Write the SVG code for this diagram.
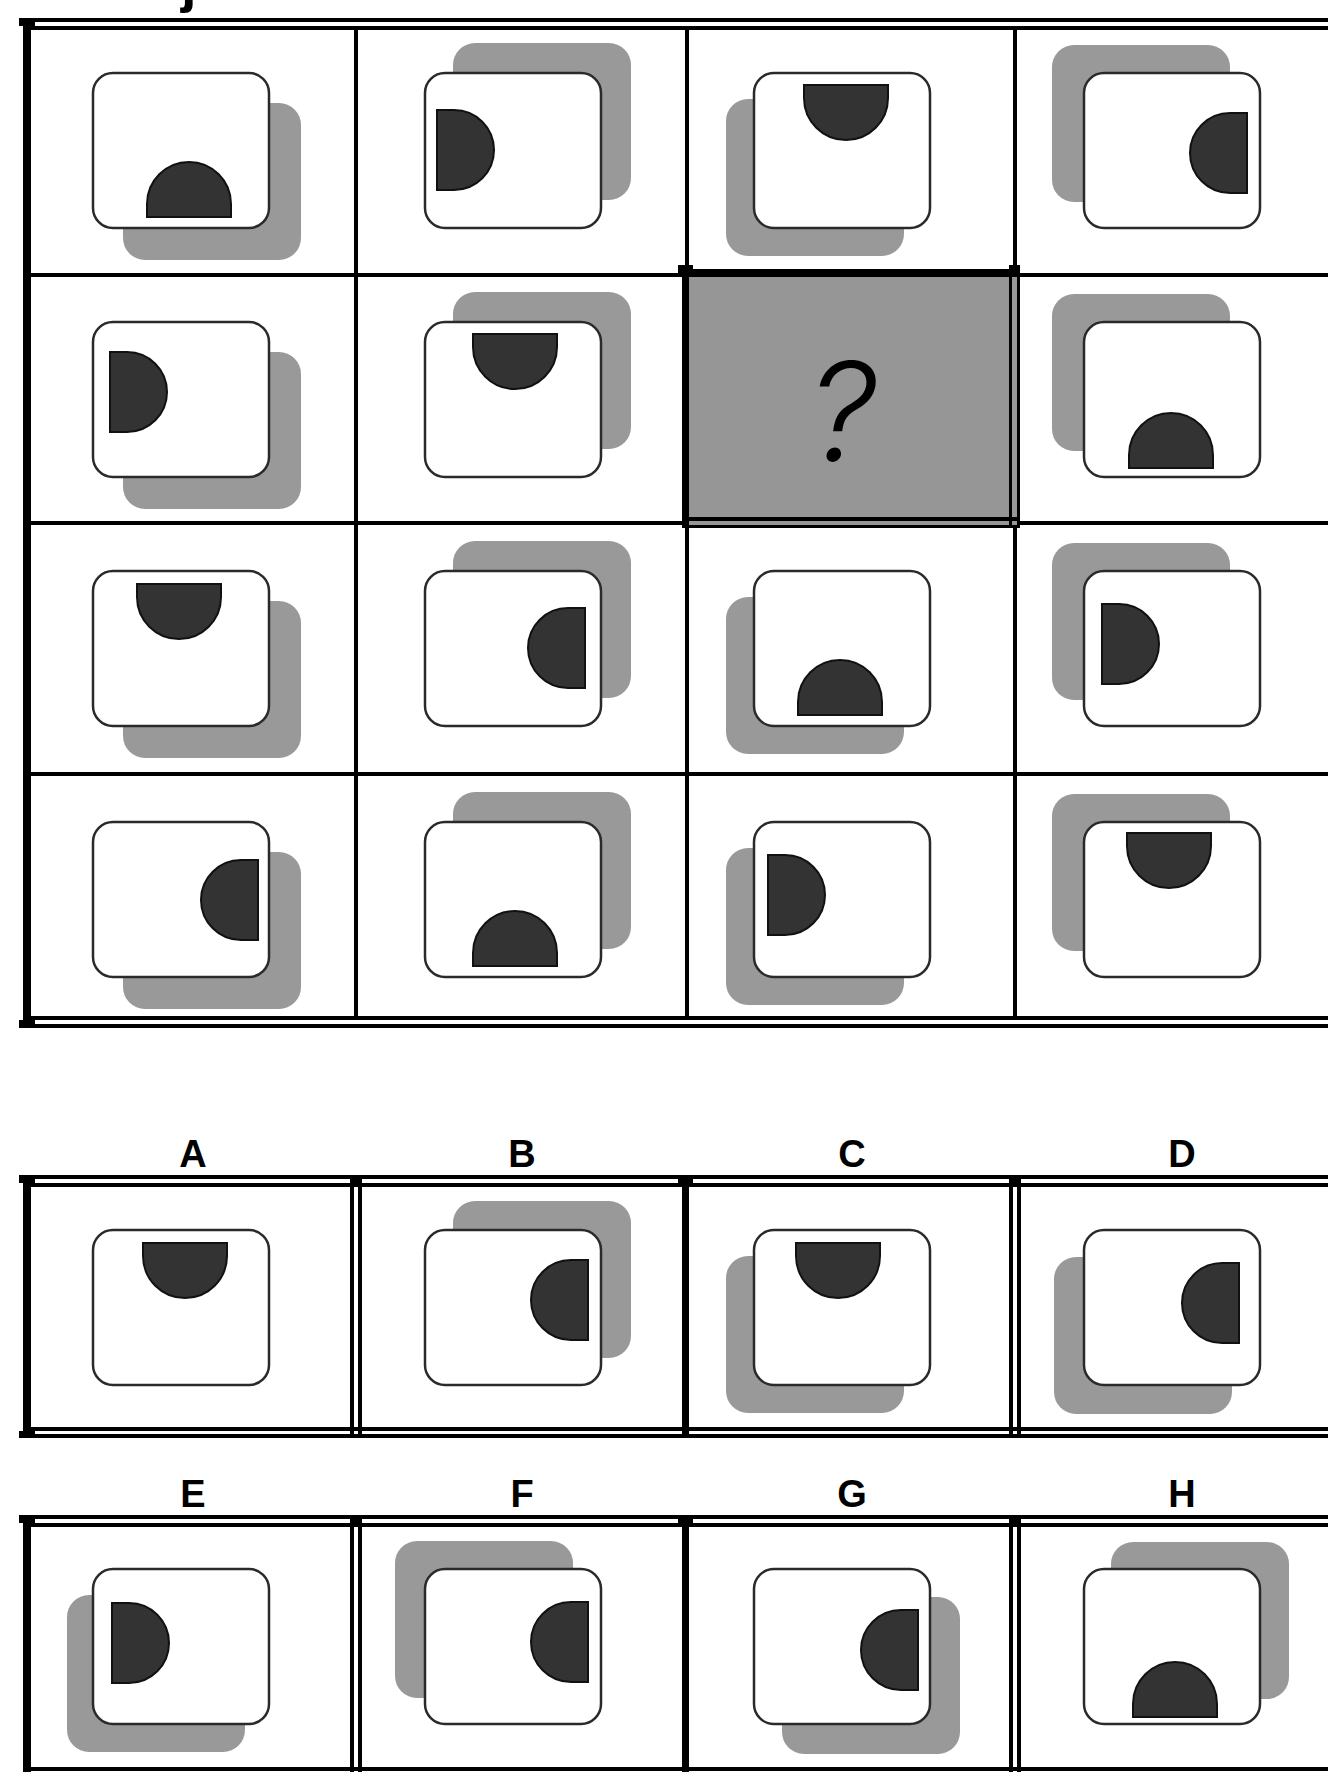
<svg xmlns="http://www.w3.org/2000/svg" width="1328" height="1772" viewBox="0 0 1328 1772">
<defs>
<style>
.ln{fill:#000}
.shadow{fill:#999}
.tile{fill:#fff;stroke:#2a2a2a;stroke-width:2.5}
.semi{fill:#333;stroke:#111;stroke-width:2}
.lbl{font-family:"Liberation Sans",Arial,sans-serif;font-weight:bold;font-size:38px;text-anchor:middle;fill:#000}
</style>
</defs>
<rect width="1328" height="1772" fill="#fff"/>
<text x="181" y="1" style="font-family:'Liberation Sans',Arial,sans-serif;font-weight:bold;font-size:56px;fill:#000">j</text>

<g id="connectors">
  <g id="main-grid">
    <rect class="ln" x="19" y="18" width="1309" height="4"/>
    <rect class="ln" x="31" y="26" width="1297" height="4"/>
    <rect class="ln" x="19" y="18" width="16" height="8"/>
    <rect class="ln" x="23" y="18" width="8" height="1010"/>
    <rect class="ln" x="31" y="1016" width="1297" height="4"/>
    <rect class="ln" x="19" y="1024" width="1309" height="4"/>
    <rect class="ln" x="19" y="1020" width="16" height="8"/>
    <rect class="ln" x="31" y="273" width="1297" height="4"/>
    <rect class="ln" x="31" y="521" width="1297" height="4"/>
    <rect class="ln" x="31" y="772" width="1297" height="4"/>
    <rect class="ln" x="354" y="30" width="4" height="986"/>
    <rect class="ln" x="685" y="30" width="4" height="986"/>
    <rect class="ln" x="1013" y="30" width="4" height="986"/>
  </g>
  <g id="answer-grid-1">
    <rect class="ln" x="19" y="1175" width="1309" height="4"/>
    <rect class="ln" x="31" y="1183" width="1297" height="4"/>
    <rect class="ln" x="19" y="1175" width="16" height="8"/>
    <rect class="ln" x="23" y="1175" width="8" height="263"/>
    <rect class="ln" x="31" y="1427" width="1297" height="4"/>
    <rect class="ln" x="19" y="1434" width="1309" height="4"/>
    <rect class="ln" x="19" y="1431" width="16" height="7"/>
    <rect class="ln" x="350" y="1175" width="4" height="263"/>
    <rect class="ln" x="358" y="1175" width="4" height="263"/>
    <rect class="ln" x="350" y="1175" width="12" height="8"/>
    <rect class="ln" x="682" y="1175" width="7" height="263"/>
    <rect class="ln" x="678" y="1176" width="15" height="11"/>
    <rect class="ln" x="1009" y="1175" width="4" height="263"/>
    <rect class="ln" x="1017" y="1175" width="4" height="263"/>
    <rect class="ln" x="1009" y="1175" width="12" height="8"/>
  </g>
  <g id="answer-grid-2">
    <rect class="ln" x="19" y="1515" width="1309" height="4"/>
    <rect class="ln" x="31" y="1523" width="1297" height="4"/>
    <rect class="ln" x="19" y="1515" width="16" height="8"/>
    <rect class="ln" x="23" y="1515" width="8" height="257"/>
    <rect class="ln" x="31" y="1767" width="1297" height="4"/>
    <rect class="ln" x="350" y="1515" width="4" height="257"/>
    <rect class="ln" x="358" y="1515" width="4" height="257"/>
    <rect class="ln" x="350" y="1515" width="12" height="8"/>
    <rect class="ln" x="682" y="1515" width="7" height="257"/>
    <rect class="ln" x="678" y="1516" width="15" height="11"/>
    <rect class="ln" x="1009" y="1515" width="4" height="257"/>
    <rect class="ln" x="1017" y="1515" width="4" height="257"/>
    <rect class="ln" x="1009" y="1515" width="12" height="8"/>
  </g>
</g>

<g id="cell-r2c3-question">
  <rect x="689" y="277" width="328" height="248" fill="#969696"/>
  <rect class="ln" x="682" y="269" width="338" height="8"/>
  <rect class="ln" x="682" y="269" width="7" height="259"/>
  <rect class="ln" x="1009" y="269" width="3" height="259"/>
  <rect class="ln" x="1017" y="269" width="3" height="259"/>
  <rect class="ln" x="682" y="517" width="338" height="4"/>
  <rect class="ln" x="682" y="525" width="338" height="3"/>
  <rect class="ln" x="678" y="265" width="15" height="12"/>
  <rect class="ln" x="1009" y="265" width="11" height="8"/>
  <text x="842" y="461" style="font-family:Inter,'DejaVu Sans',sans-serif;font-weight:300;font-style:italic;font-size:137px;text-anchor:middle;fill:#000">?</text>
</g>

<g id="cell-r1c1"><rect class="shadow" x="123" y="103" width="178" height="157" rx="22"/><rect class="tile" x="93" y="73" width="176" height="155" rx="20"/><path class="semi" d="M147,217 L147,204 A42,42 0 0 1 231,204 L231,217 Z"/></g>
<g id="cell-r1c2"><rect class="shadow" x="453" y="43" width="178" height="157" rx="22"/><rect class="tile" x="425" y="73" width="176" height="155" rx="20"/><path class="semi" d="M437,110 L454,110 A40,40 0 0 1 454,190 L437,190 Z"/></g>
<g id="cell-r1c3"><rect class="shadow" x="726" y="99" width="178" height="157" rx="22"/><rect class="tile" x="754" y="73" width="176" height="155" rx="20"/><path class="semi" d="M888,85 L888,98 A42,42 0 0 1 804,98 L804,85 Z"/></g>
<g id="cell-r1c4"><rect class="shadow" x="1052" y="45" width="178" height="157" rx="22"/><rect class="tile" x="1084" y="73" width="176" height="155" rx="20"/><path class="semi" d="M1247,193 L1230,193 A40,40 0 0 1 1230,113 L1247,113 Z"/></g>

<g id="cell-r2c1"><rect class="shadow" x="123" y="352" width="178" height="157" rx="22"/><rect class="tile" x="93" y="322" width="176" height="155" rx="20"/><path class="semi" d="M110,352 L127,352 A40,40 0 0 1 127,432 L110,432 Z"/></g>
<g id="cell-r2c2"><rect class="shadow" x="453" y="292" width="178" height="157" rx="22"/><rect class="tile" x="425" y="322" width="176" height="155" rx="20"/><path class="semi" d="M557,334 L557,347 A42,42 0 0 1 473,347 L473,334 Z"/></g>
<g id="cell-r2c4"><rect class="shadow" x="1052" y="294" width="178" height="157" rx="22"/><rect class="tile" x="1084" y="322" width="176" height="155" rx="20"/><path class="semi" d="M1129,468 L1129,455 A42,42 0 0 1 1213,455 L1213,468 Z"/></g>

<g id="cell-r3c1"><rect class="shadow" x="123" y="601" width="178" height="157" rx="22"/><rect class="tile" x="93" y="571" width="176" height="155" rx="20"/><path class="semi" d="M221,584 L221,597 A42,42 0 0 1 137,597 L137,584 Z"/></g>
<g id="cell-r3c2"><rect class="shadow" x="453" y="541" width="178" height="157" rx="22"/><rect class="tile" x="425" y="571" width="176" height="155" rx="20"/><path class="semi" d="M585,688 L568,688 A40,40 0 0 1 568,608 L585,608 Z"/></g>
<g id="cell-r3c3"><rect class="shadow" x="726" y="597" width="178" height="157" rx="22"/><rect class="tile" x="754" y="571" width="176" height="155" rx="20"/><path class="semi" d="M798,715 L798,702 A42,42 0 0 1 882,702 L882,715 Z"/></g>
<g id="cell-r3c4"><rect class="shadow" x="1052" y="543" width="178" height="157" rx="22"/><rect class="tile" x="1084" y="571" width="176" height="155" rx="20"/><path class="semi" d="M1102,604 L1119,604 A40,40 0 0 1 1119,684 L1102,684 Z"/></g>

<g id="cell-r4c1"><rect class="shadow" x="123" y="852" width="178" height="157" rx="22"/><rect class="tile" x="93" y="822" width="176" height="155" rx="20"/><path class="semi" d="M258,940 L241,940 A40,40 0 0 1 241,860 L258,860 Z"/></g>
<g id="cell-r4c2"><rect class="shadow" x="453" y="792" width="178" height="157" rx="22"/><rect class="tile" x="425" y="822" width="176" height="155" rx="20"/><path class="semi" d="M473,966 L473,953 A42,42 0 0 1 557,953 L557,966 Z"/></g>
<g id="cell-r4c3"><rect class="shadow" x="726" y="848" width="178" height="157" rx="22"/><rect class="tile" x="754" y="822" width="176" height="155" rx="20"/><path class="semi" d="M768,855 L785,855 A40,40 0 0 1 785,935 L768,935 Z"/></g>
<g id="cell-r4c4"><rect class="shadow" x="1052" y="794" width="178" height="157" rx="22"/><rect class="tile" x="1084" y="822" width="176" height="155" rx="20"/><path class="semi" d="M1211,833 L1211,846 A42,42 0 0 1 1127,846 L1127,833 Z"/></g>

<g id="labels-1">
  <text class="lbl" x="193" y="1167">A</text>
  <text class="lbl" x="522" y="1167">B</text>
  <text class="lbl" x="852" y="1167">C</text>
  <text class="lbl" x="1182" y="1167">D</text>
</g>
<g id="labels-2">
  <text class="lbl" x="193" y="1507">E</text>
  <text class="lbl" x="522" y="1507">F</text>
  <text class="lbl" x="852" y="1507">G</text>
  <text class="lbl" x="1182" y="1507">H</text>
</g>

<g id="option-A"><rect class="tile" x="93" y="1230" width="176" height="155" rx="20"/><path class="semi" d="M227,1243 L227,1256 A42,42 0 0 1 143,1256 L143,1243 Z"/></g>
<g id="option-B"><rect class="shadow" x="453" y="1201" width="178" height="157" rx="22"/><rect class="tile" x="425" y="1230" width="176" height="155" rx="20"/><path class="semi" d="M588,1340 L571,1340 A40,40 0 0 1 571,1260 L588,1260 Z"/></g>
<g id="option-C"><rect class="shadow" x="726" y="1256" width="178" height="157" rx="22"/><rect class="tile" x="754" y="1230" width="176" height="155" rx="20"/><path class="semi" d="M880,1243 L880,1256 A42,42 0 0 1 796,1256 L796,1243 Z"/></g>
<g id="option-D"><rect class="shadow" x="1054" y="1257" width="178" height="157" rx="22"/><rect class="tile" x="1084" y="1230" width="176" height="155" rx="20"/><path class="semi" d="M1239,1343 L1222,1343 A40,40 0 0 1 1222,1263 L1239,1263 Z"/></g>
<g id="option-E"><rect class="shadow" x="67" y="1595" width="178" height="157" rx="22"/><rect class="tile" x="93" y="1569" width="176" height="155" rx="20"/><path class="semi" d="M112,1603 L129,1603 A40,40 0 0 1 129,1683 L112,1683 Z"/></g>
<g id="option-F"><rect class="shadow" x="395" y="1541" width="178" height="157" rx="22"/><rect class="tile" x="425" y="1569" width="176" height="155" rx="20"/><path class="semi" d="M588,1682 L571,1682 A40,40 0 0 1 571,1602 L588,1602 Z"/></g>
<g id="option-G"><rect class="shadow" x="782" y="1597" width="178" height="157" rx="22"/><rect class="tile" x="754" y="1569" width="176" height="155" rx="20"/><path class="semi" d="M918,1690 L901,1690 A40,40 0 0 1 901,1610 L918,1610 Z"/></g>
<g id="option-H"><rect class="shadow" x="1111" y="1542" width="178" height="157" rx="22"/><rect class="tile" x="1084" y="1569" width="176" height="155" rx="20"/><path class="semi" d="M1133,1717 L1133,1704 A42,42 0 0 1 1217,1704 L1217,1717 Z"/></g>
</svg>
